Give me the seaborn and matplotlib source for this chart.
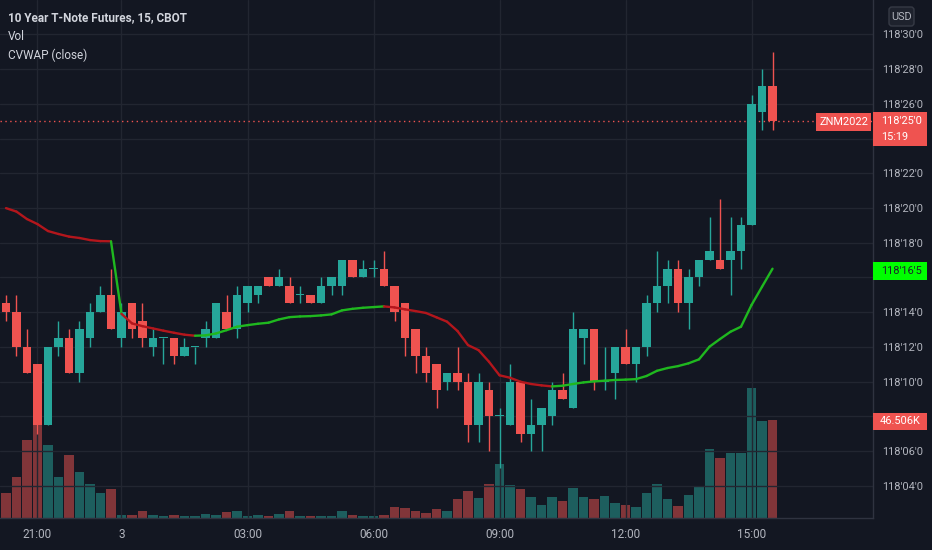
import numpy as np
import pandas as pd
import matplotlib
matplotlib.use("Agg")
import matplotlib.pyplot as plt
import seaborn as sns
from matplotlib import font_manager
from matplotlib.transforms import IdentityTransform
from matplotlib.patches import Rectangle, FancyBboxPatch
from matplotlib.collections import LineCollection

# ---------------- data (prices in 32nds above 118) ----------------
OPEN = [14.5, 14, 12, 11, 7.5, 12, 12.5, 10.5, 12.5, 14, 15, 12.5, 14.5, 13.5, 12, 12.5, 12.5, 11.5, 12,
        12.5, 12.5, 14, 13, 14.5, 15, 16, 15.5, 15.5, 15, 15, 14.5, 15.5, 15.5, 17, 16, 16.5, 16.5,
        15.5, 14.5, 13, 11.5, 11, 10, 10.5, 10, 7.5, 9.5, 8, 7.5, 10, 7, 7.5, 8, 9.5, 8.5, 12.5, 13,
        10, 10.5, 12, 11, 12, 14.5, 15.5, 16.5, 14.5, 16, 17, 17, 17, 17.5, 19, 25.5, 27]
HIGH = [15, 15, 13, 11, 12, 13.5, 13, 13.5, 14.5, 15.5, 16.5, 14.5, 14.5, 14.5, 13, 12.5, 12.5, 12.5, 12,
        13.5, 14.5, 15, 15.5, 15.5, 15.5, 16, 16.5, 16, 15.5, 15, 16, 16, 17, 17, 17, 17, 17.5,
        15.5, 14.5, 13, 12, 11, 10.5, 12, 10.5, 10.5, 10, 8.5, 11, 10, 9, 8.5, 10, 10.5, 14, 13, 13,
        12, 12, 13, 12, 15, 17.5, 17, 17, 16.5, 17, 19.5, 20.5, 19.5, 19.5, 26.5, 28, 29]
LOW = [13.5, 11.5, 10.5, 7, 7.5, 11.5, 10.5, 10, 12, 14, 13, 12, 12.5, 12, 11.5, 11, 11, 11.5, 11,
       12, 12.5, 13, 12.5, 14, 14.5, 15.5, 15.5, 14.5, 14.5, 14.5, 14.5, 15, 15, 16, 16, 16, 15.5,
       13.5, 11.5, 10.5, 10, 8.5, 9.5, 9.5, 6.5, 6.5, 6, 5, 7.5, 6.5, 6, 6, 7.5, 9, 8.5, 11, 9.5,
       9.5, 9, 11, 10, 11.5, 14, 14.5, 14, 13, 15.5, 17, 16.5, 15, 16.5, 19, 24.5, 24.5]
CLOSE = [14, 12, 10.5, 7.5, 12, 12.5, 10.5, 13, 14, 15, 13, 14, 13, 12.5, 12.5, 12.5, 11.5, 12, 12,
         13, 14.5, 13, 15, 15.5, 15.5, 15.5, 16, 14.5, 15, 14.5, 15.5, 16, 17, 16, 16.5, 16.5, 15.5,
         14, 12.5, 11.5, 10.5, 9.5, 10.5, 10, 7.5, 10, 8, 8, 10, 7, 7.5, 8.5, 9.5, 9, 13, 13, 10,
         10, 12, 11, 12, 14.5, 15.5, 16.5, 14.5, 16, 17, 17.5, 16.5, 17.5, 19, 26, 27, 25]
VOLUME_K = [12.0, 19.3, 37.0, 51.7, 34.5, 19.3, 29.7, 21.8, 16.1, 11.6, 13.8,
            1.6, 1.6, 3.2, 1.4, 1.0, 1.6, 1.0, 1.0, 2.1, 1.6, 2.7, 3.3, 1.0, 1.6, 1.1, 2.1, 3.3,
            1.1, 1.1, 1.0, 1.0, 3.2, 1.6, 1.1, 1.0, 1.3,
            5.4, 4.7, 3.3, 2.2, 4.3, 3.2, 8.9, 13.0, 9.5, 16.1, 25.6, 15.8, 13.6, 10.0, 6.3, 10.0,
            8.2, 14.1, 10.0, 8.9, 10.4, 7.3, 6.3, 5.4, 11.6, 16.1, 9.0, 5.9, 11.1, 15.2, 32.4,
            28.2, 30.7, 30.7, 61.4, 45.9, 46.506]
CVWAP = [19.99, 19.79, 19.36, 19.07, 18.67, 18.50, 18.35, 18.27, 18.15, 18.09, 18.08,
         13.90, 13.35, 13.19, 13.06, 12.93, 12.81, 12.70, 12.64, 12.66, 12.77, 12.96, 13.16,
         13.25, 13.33, 13.39, 13.58, 13.71, 13.75, 13.77, 13.81, 13.87, 14.10, 14.19, 14.25,
         14.29, 14.33, 14.27, 14.16, 14.06, 13.95, 13.70, 13.45, 12.91, 12.10, 11.81, 11.14,
         10.36, 10.22, 9.99, 9.86, 9.78, 9.72, 9.76, 9.86, 9.95, 10.01, 10.05, 10.09, 10.11,
         10.14, 10.32, 10.62, 10.78, 10.89, 11.05, 11.28, 12.01, 12.45, 12.87, 13.16, 14.41,
         15.46, 16.5]
SESSION_START = 11
TIME_TICK_IDX = [3, 11, 23, 35, 47, 59, 71]
TIME_TICK_LABELS = ["21:00", "3", "03:00", "06:00", "09:00", "12:00", "15:00"]
PRICE_TICKS = list(range(4, 32, 2))
TITLE = "10 Year T-Note Futures, 15, CBOT"
LEGEND_LINES = ["Vol", "CVWAP (close)"]
SYMBOL = "ZNM2022"
COUNTDOWN = "15:19"
CURRENCY = "USD"


def fmt_price(p):
    whole = int(np.floor(p + 1e-9))
    frac = int(round((p - whole) * 10))
    return f"118'{whole:02d}'{frac}"


# ---------------- style ----------------
BG = "#131722"
GRID = "#222631"
SPINE = "#2f3340"
TXT = "#b2b5be"
UP = "#26a69a"
DN = "#ef5350"
VOL_UP = "#1d5e5e"
VOL_DN = "#813539"
VW_UP = "#1fb81f"
VW_DN = "#b3161c"

sns.set_theme(style="dark", rc={"axes.facecolor": BG, "figure.facecolor": BG})
names = {f.name for f in font_manager.fontManager.ttflist}
if "Liberation Sans Narrow" in names:
    FONT, FS = "Liberation Sans Narrow", 9.2
else:
    FONT, FS = "Roboto", 7.9
plt.rcParams["font.family"] = [FONT, "DejaVu Sans"]

W, H = 932, 550
PW, PH = 873, 518
fig = plt.figure(figsize=(W / 100, H / 100), dpi=100, facecolor=BG)
rect = [0, (H - PH) / H, PW / W, PH / H]
ax_vol = fig.add_axes(rect)
ax = fig.add_axes(rect)
ax.patch.set_visible(False)

n = len(CLOSE)
idx = np.arange(n)
o, h_, l_, c = map(np.asarray, (OPEN, HIGH, LOW, CLOSE))
up = c >= o

XLIM = (-0.571, 82.57)
YLIM = (2.14, 31.98)

# volume (seaborn)
df = pd.DataFrame({"i": idx, "vol": VOLUME_K, "dir": np.where(up, "up", "down")})
sns.barplot(data=df, x="i", y="vol", hue="dir", palette={"up": VOL_UP, "down": VOL_DN},
            native_scale=True, width=0.88, saturation=1, dodge=False, legend=False,
            linewidth=0, ax=ax_vol)
ax_vol.set_xlim(*XLIM)
ax_vol.set_ylim(0, 245)
ax_vol.set_xticks([])
ax_vol.set_yticks([])
ax_vol.set_xlabel("")
ax_vol.set_ylabel("")
for s in ax_vol.spines.values():
    s.set_visible(False)
ax_vol.set_facecolor(BG)

# candles
colors = np.where(up, UP, DN)
ax.vlines(idx, l_, h_, colors=colors, linewidth=1.0, zorder=3)
body_h = np.maximum(np.abs(c - o), 0.07)
ax.bar(idx, body_h, bottom=np.minimum(o, c), width=0.8, color=colors, linewidth=0, zorder=4)

# CVWAP line
vw = np.asarray(CVWAP)
pts = np.column_stack([idx, vw])
segs = np.stack([pts[:-1], pts[1:]], axis=1)
seg_cols = [VW_UP if (vw[k + 1] > vw[k] or k + 1 == SESSION_START) else VW_DN for k in range(n - 1)]
lc = LineCollection(segs, colors=seg_cols, linewidths=1.7, capstyle="round", joinstyle="round", zorder=5)
ax.add_collection(lc)

# last price dotted line
ax.axhline(CLOSE[-1], color=DN, linewidth=1, linestyle=(0, (1, 2.5)), zorder=2)

ax.set_xlim(*XLIM)
ax.set_ylim(*YLIM)
ax.set_axisbelow(True)
ax.grid(True, color=GRID, linewidth=1)
ax.yaxis.tick_right()
ax.set_yticks(PRICE_TICKS, [fmt_price(p) for p in PRICE_TICKS])
ax.set_xticks(TIME_TICK_IDX, TIME_TICK_LABELS)
ax.tick_params(axis="y", length=0, pad=6.3, labelcolor=TXT, labelsize=FS)
ax.tick_params(axis="x", length=0, pad=7.5, labelcolor=TXT, labelsize=FS + 0.6)
ax.set_xlabel("")
ax.set_ylabel("")
for k, s in ax.spines.items():
    if k in ("right", "bottom"):
        s.set_visible(True)
        s.set_color(SPINE)
        s.set_linewidth(1)
    else:
        s.set_visible(False)

# legend text
fig.text(8 / W, 1 - 18 / H, TITLE, color="#d1d4dc", fontsize=FS + 0.6, fontweight="bold", va="center", ha="left")
fig.text(8 / W, 1 - 36.5 / H, LEGEND_LINES[0], color="#d1d4dc", fontsize=FS + 0.6, va="center", ha="left")
fig.text(8 / W, 1 - 55.5 / H, LEGEND_LINES[1], color="#d1d4dc", fontsize=FS + 0.6, va="center", ha="left")

fig.canvas.draw()
I = IdentityTransform()


def box(x0, yc, w, hgt, fc):
    fig.add_artist(Rectangle((x0, yc - hgt / 2), w, hgt, transform=I, facecolor=fc,
                             edgecolor="none", zorder=5))


def label(x, y, s, col, ha="left", bold=False, size=FS):
    fig.text(x, y, s, transform=I, color=col, fontsize=size, ha=ha, va="center",
             fontweight="bold" if bold else "normal", zorder=6)


# tag positions (display coordinates)
y_last = ax.transData.transform((0, CLOSE[-1]))[1]
y_vw = ax.transData.transform((0, CVWAP[-1]))[1]
y_vol = ax_vol.transData.transform((0, VOLUME_K[-1]))[1]

# hide price tick labels that the tags cover
tag_spans = [(y_last - 25, y_last + 9), (y_vw - 11, y_vw + 7), (y_vol - 10, y_vol + 7)]
for tick_val, lab in zip(PRICE_TICKS, ax.get_yticklabels()):
    ty = ax.transData.transform((0, tick_val))[1]
    if any(lo - 6 < ty < hi + 6 for lo, hi in tag_spans):
        lab.set_visible(False)

# last price tag
box(873, y_last - 8, 54, 34, DN)
label(881, y_last, fmt_price(CLOSE[-1]), "white")
label(881, y_last - 16, COUNTDOWN, "white")
box(816, y_last - 1, 55, 18, DN)
label(843.5, y_last - 1, SYMBOL, "white", ha="center")

# CVWAP tag
box(873, y_vw - 2, 54, 18, "#00ff00")
label(881, y_vw - 2, fmt_price(CVWAP[-1]), "#1e222d")

# volume tag
box(873, y_vol - 1.5, 54, 17, DN)
label(880, y_vol - 1.5, f"{VOLUME_K[-1]:.3f}K", "white")

# currency tag
fig.add_artist(FancyBboxPatch((889, H - 26), 25, 19, boxstyle="round,pad=0,rounding_size=3",
                              transform=I, facecolor="#1e222d", edgecolor="#363a45", linewidth=1, zorder=5))
label(901.5, H - 16.5, CURRENCY, TXT, ha="center")

fig.savefig("out.png", dpi=100, facecolor=BG)
